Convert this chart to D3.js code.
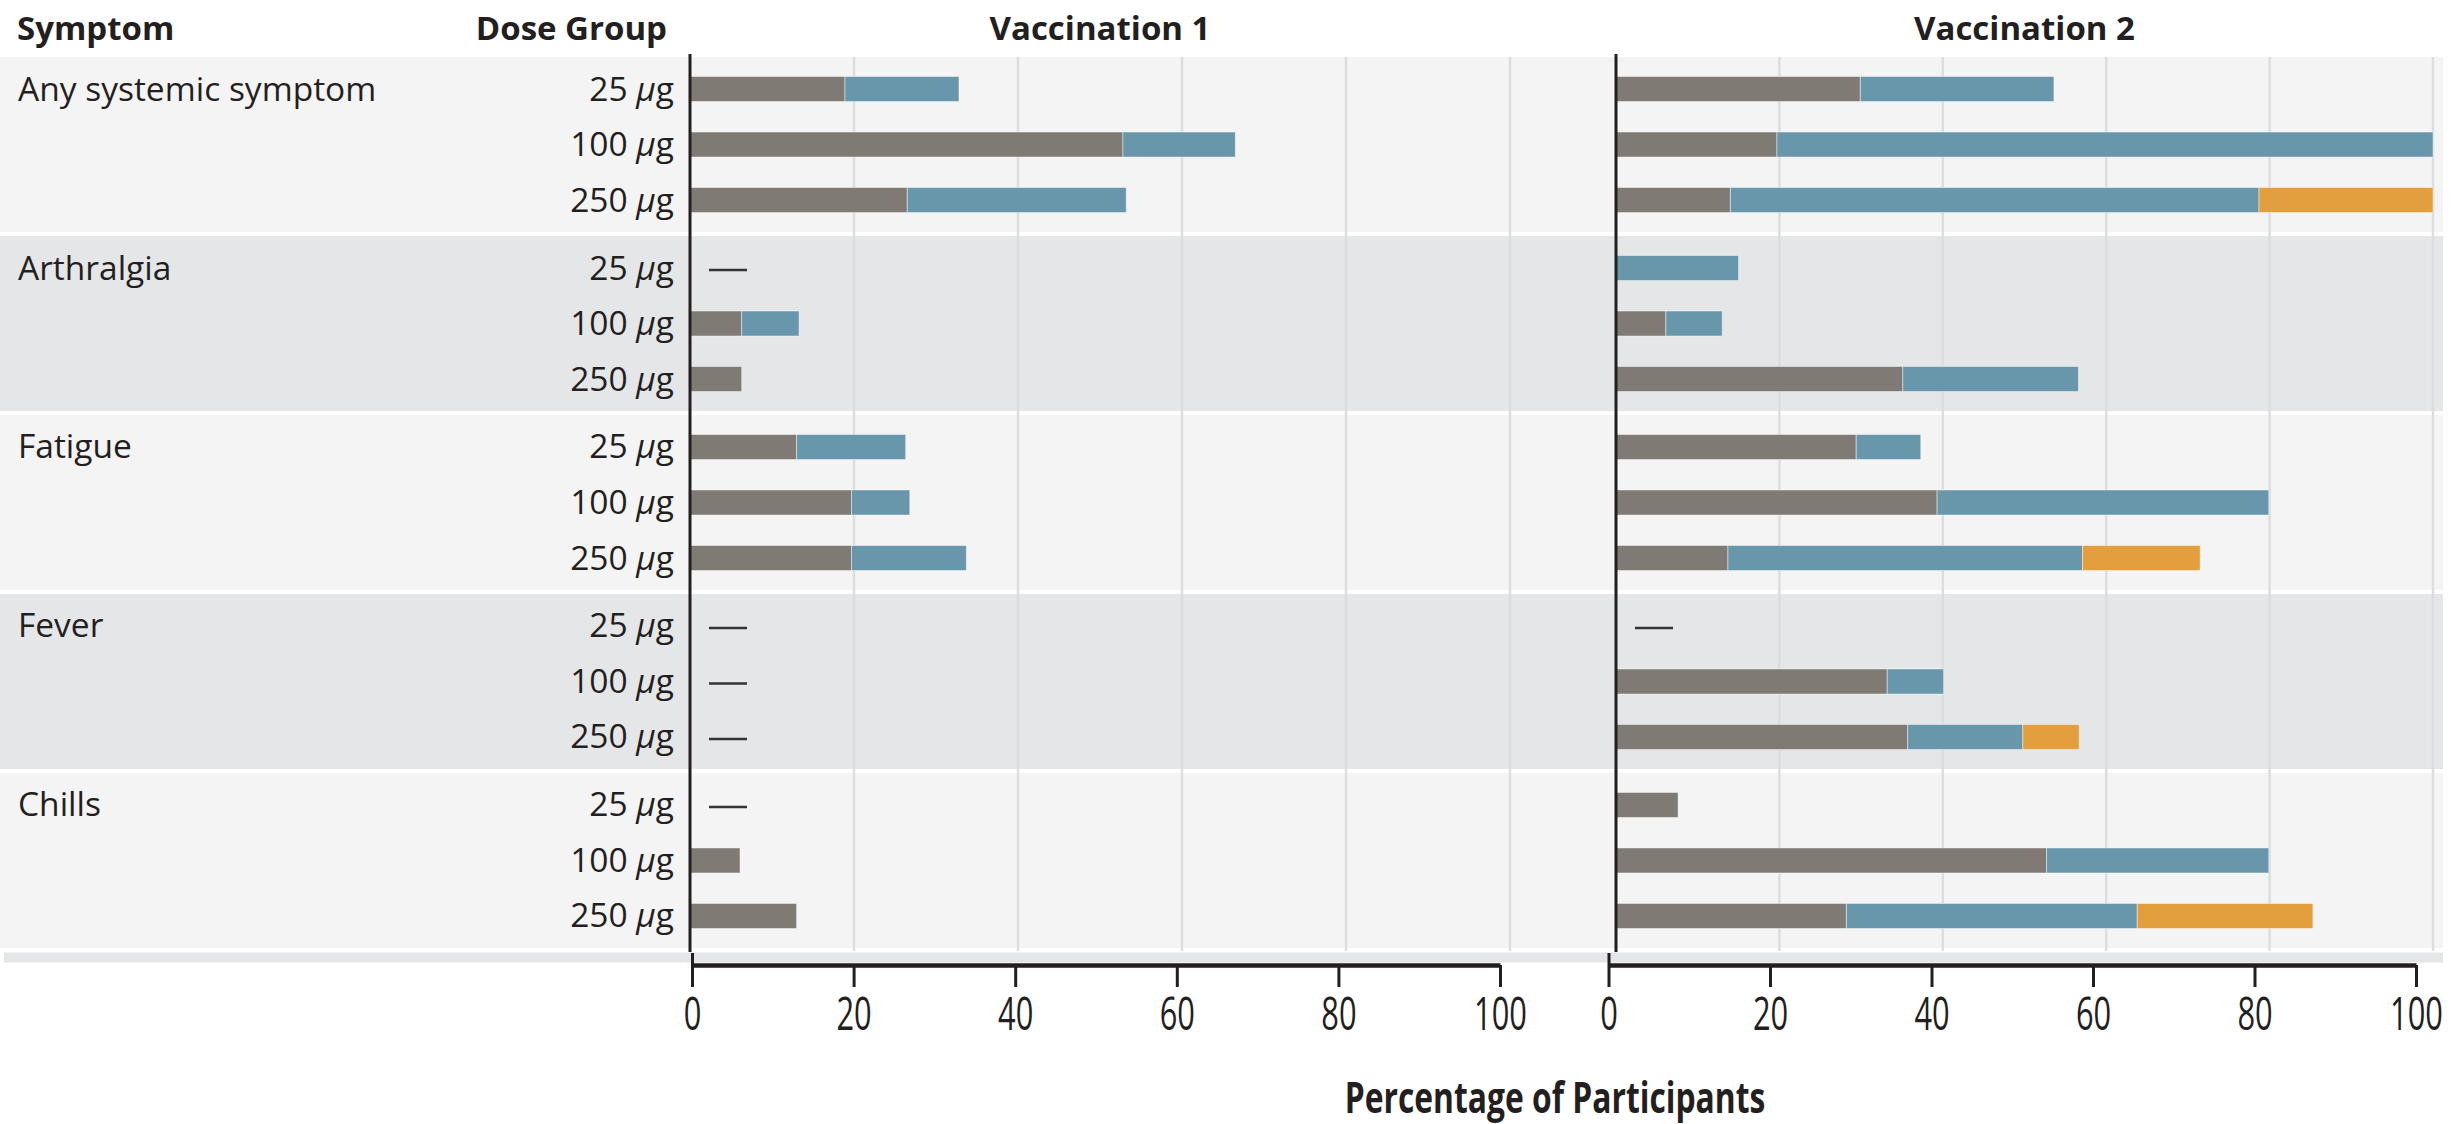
<!DOCTYPE html>
<html><head><meta charset="utf-8">
<script src="https://cdn.jsdelivr.net/npm/d3@7"></script>
<style>html,body{margin:0;padding:0;background:#fff;} svg{display:block;}</style>
</head><body>
<svg id="chart" width="2459" height="1124"></svg>
<script>
// ---------- data ----------
const symptoms = ["Any systemic symptom", "Arthralgia", "Fatigue", "Fever", "Chills"];
const doses = ["25", "100", "250"];
const severities = ["Mild", "Moderate", "Severe"];
const panels = ["Vaccination 1", "Vaccination 2"];

// percentage of participants, rows = symptoms, columns = doses (25, 100, 250 µg)
const v1Mild     = [[18.9, 52.8, 26.5], [0, 6.3, 6.3], [13.0, 19.7, 19.7], [0, 0, 0], [0, 6.1, 13.0]];
const v1Moderate = [[13.9, 13.7, 26.7], [0, 7.0, 0],   [13.3, 7.1, 14.0],  [0, 0, 0], [0, 0, 0]];
const v1Severe   = [[0, 0, 0],          [0, 0, 0],     [0, 0, 0],          [0, 0, 0], [0, 0, 0]];

const v2Mild     = [[29.9, 19.7, 14.0], [0, 6.1, 35.1],   [29.4, 39.3, 13.7], [0, 33.2, 35.7], [7.6, 52.7, 28.2]];
const v2Moderate = [[23.7, 80.3, 64.7], [15.0, 6.9, 21.5], [7.9, 40.6, 43.4], [0, 6.9, 14.1],  [0, 27.2, 35.6]];
const v2Severe   = [[0, 0, 21.3],       [0, 0, 0],         [0, 0, 14.4],      [0, 0, 6.9],     [0, 0, 21.5]];

const tickValues = [0, 20, 40, 60, 80, 100];
const tickLabels = ["0", "20", "40", "60", "80", "100"];
const gridValues = [20, 40, 60, 80, 100];

// ---------- styles ----------
const colors = { Mild: "#7f7a73", Moderate: "#6896ab", Severe: "#e39f3e" };
const bandFill = ["#f4f4f4", "#e5e6e8"];
const ink = "#231f20";
const bodyFont = "'Open Sans', 'Noto Sans', sans-serif";

const panelData = [
  { mild: v1Mild, moderate: v1Moderate, severe: v1Severe },
  { mild: v2Mild, moderate: v2Moderate, severe: v2Severe }
];

const svg = d3.select("#chart");

const y = d3.scaleBand().domain(symptoms).range([57, 948]).paddingInner(0.022);
const yRow = d3.scalePoint().domain(doses).range([0, y.bandwidth()]).padding(0.577);
const xTop = [
  d3.scaleLinear().domain([0, 100]).range([690, 1510]),
  d3.scaleLinear().domain([0, 100]).range([1616, 2433])
];
const xBot = [
  d3.scaleLinear().domain([0, 100]).range([692, 1500]),
  d3.scaleLinear().domain([0, 100]).range([1608.5, 2416])
];

// background bands
svg.append("g").selectAll("rect").data(symptoms).join("rect")
  .attr("x", 0).attr("width", 2443)
  .attr("y", d => y(d)).attr("height", y.bandwidth())
  .attr("fill", (d, i) => bandFill[i % 2]);

// bottom strip
svg.append("rect").attr("x", 4).attr("y", 952.5).attr("width", 2439).attr("height", 10)
  .attr("fill", "#e4e5e7");

// gridlines
panels.forEach((p, pi) => {
  svg.append("g").selectAll("line").data(gridValues).join("line")
    .attr("x1", d => xTop[pi](d)).attr("x2", d => xTop[pi](d))
    .attr("y1", 57).attr("y2", 951)
    .attr("stroke", "#dcdddf").attr("stroke-width", 2.5);
});

// bars
const stack = d3.stack().keys(severities);
panels.forEach((p, pi) => {
  const rows = [];
  symptoms.forEach((s, si) => {
    doses.forEach((d, di) => {
      rows.push({
        symptom: s, dose: d,
        Mild: panelData[pi].mild[si][di],
        Moderate: panelData[pi].moderate[si][di],
        Severe: panelData[pi].severe[si][di]
      });
    });
  });
  const series = stack(rows);
  const barH = 25;
  const g = svg.append("g");
  series.forEach(ser => {
    g.append("g").selectAll("rect")
      .data(ser.filter(d => d[1] - d[0] > 0))
      .join("rect")
      .attr("x", d => xTop[pi](d[0]))
      .attr("width", d => xTop[pi](d[1]) - xTop[pi](d[0]))
      .attr("y", d => y(d.data.symptom) + yRow(d.data.dose) - barH / 2)
      .attr("height", barH)
      .attr("fill", colors[ser.key])
      .attr("stroke", "rgba(255,255,255,0.45)").attr("stroke-width", 1);
  });
  // dashes for zero values
  g.append("g").selectAll("line")
    .data(rows.filter(r => r.Mild + r.Moderate + r.Severe === 0))
    .join("line")
    .attr("x1", xTop[pi](0) + 19).attr("x2", xTop[pi](0) + 57)
    .attr("y1", r => y(r.symptom) + yRow(r.dose) + 2)
    .attr("y2", r => y(r.symptom) + yRow(r.dose) + 2)
    .attr("stroke", "#333").attr("stroke-width", 2.5);

  // panel axis line
  svg.append("line")
    .attr("x1", xTop[pi](0)).attr("x2", xTop[pi](0))
    .attr("y1", 54).attr("y2", 952)
    .attr("stroke", ink).attr("stroke-width", 3);

  // panel header
  svg.append("text")
    .attr("x", (xTop[pi](0) + xTop[pi](100)) / 2).attr("y", 39.5)
    .attr("text-anchor", "middle")
    .attr("font-family", bodyFont).attr("font-weight", 700).attr("font-size", 33)
    .attr("fill", ink).text(p);

  // bottom axis
  const axis = d3.axisBottom(xBot[pi]).tickValues(tickValues)
    .tickFormat((d, i) => tickLabels[i]).tickSize(22).tickSizeOuter(0);
  const ag = svg.append("g").attr("transform", "translate(0,965)").call(axis);
  ag.select(".domain").attr("stroke", ink).attr("stroke-width", 4.5);
  ag.selectAll(".tick line").attr("stroke", ink).attr("stroke-width", 3)
    .attr("y1", d => d === 0 ? -12 : 0);
  ag.selectAll(".tick text")
    .attr("y", 65).attr("dy", 0)
    .attr("transform", "scale(0.67,1)")
    .attr("font-family", bodyFont).attr("font-size", 46).attr("fill", ink);
});

// column headers
svg.append("text").attr("x", 17).attr("y", 39.5)
  .attr("font-family", bodyFont).attr("font-weight", 700).attr("font-size", 33)
  .attr("fill", ink).text("Symptom");
svg.append("text").attr("x", 667).attr("y", 39.5).attr("text-anchor", "end")
  .attr("font-family", bodyFont).attr("font-weight", 700).attr("font-size", 33)
  .attr("fill", ink).text("Dose Group");

// symptom labels
svg.append("g").selectAll("text").data(symptoms).join("text")
  .attr("x", 18).attr("y", d => y(d) + yRow(doses[0]) + 11.5)
  .attr("font-family", bodyFont).attr("font-size", 33.5).attr("fill", ink)
  .text(d => d);

// dose labels
const doseG = svg.append("g");
symptoms.forEach(s => {
  doses.forEach(d => {
    const t = doseG.append("text")
      .attr("x", 674).attr("y", y(s) + yRow(d) + 11.5)
      .attr("text-anchor", "end")
      .attr("font-family", bodyFont).attr("font-size", 33.5).attr("fill", ink);
    t.append("tspan").text(d + " ");
    t.append("tspan").attr("font-style", "italic").text("\u00B5");
    t.append("tspan").text("g");
  });
});

// x-axis title
svg.append("text")
  .attr("transform", "translate(1555,1112.7) scale(0.74,1)")
  .attr("text-anchor", "middle")
  .attr("font-family", bodyFont).attr("font-weight", 700).attr("font-size", 43)
  .attr("fill", ink).text("Percentage of Participants");
</script>
</body></html>
